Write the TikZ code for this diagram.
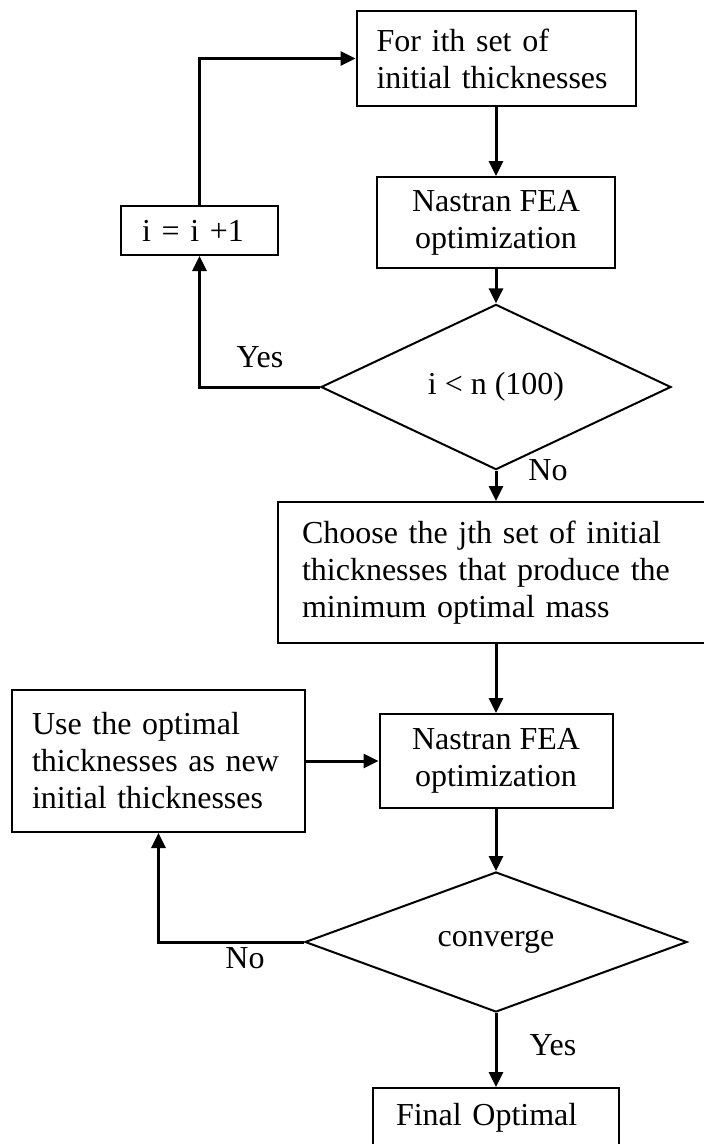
\documentclass[tikz,border=0pt]{standalone}
\usepackage{fontspec}
\setmainfont{Liberation Serif}
\usetikzlibrary{arrows.meta,shapes.geometric}
\begin{document}
\begin{tikzpicture}[x=1pt,y=-1pt,
  font=\fontsize{32}{37}\selectfont,
  box/.style={draw, line width=2pt, rectangle, inner sep=0pt},
  dia/.style={draw, line width=2pt, diamond, inner sep=0pt},
  arr/.style={line width=3pt, -{Triangle[length=15pt,width=14pt]}},
  lbl/.style={inner sep=0pt}]
\useasboundingbox (0,0) rectangle (704,1144);
\clip (0,0) rectangle (704,1144);
\node[box, minimum width=279, minimum height=95, text width=239, align=left] (b1) at (496,58.5) {For ith set of\\initial thicknesses};
\node[box, minimum width=238, minimum height=91, align=center] (b2) at (496,222.5) {Nastran FEA\\optimization};
\node[box, minimum width=157, minimum height=49, text width=115, align=left] (ib) at (199.5,230.5) {i = i +1};
\node[dia, minimum width=350, minimum height=120] (d1) at (496,387) {i < n (100)};
\node[box, minimum width=462, minimum height=141, text width=414, align=left] (b3) at (509,572.5) {Choose the jth set of initial\\thicknesses that produce the\\minimum optimal mass};
\node[box, minimum width=233, minimum height=94, align=center] (b4) at (496,761) {Nastran FEA\\optimization};
\node[box, minimum width=293, minimum height=142, text width=253, align=left] (b5) at (158.5,761) {Use the optimal\\thicknesses as new\\initial thicknesses};
\node[dia, minimum width=382, minimum height=138] (d2) at (496,942) {converge};
\node[box, minimum width=246, minimum height=60, text width=200, align=left] (fin) at (496,1118) {Final Optimal};
\node[lbl] (yes1) at (260,357) {Yes};
\node[lbl] (no1) at (548,470) {No};
\node[lbl] (no2) at (245,958) {No};
\node[lbl] (yes2) at (553,1045) {Yes};
\draw[arr] (b1.south) -- (b2.north);
\draw[arr] (b2.south) -- (d1.north);
\draw[arr] (d1.south) -- (d1.south |- b3.north);
\draw[arr] (b4.north |- b3.south) -- (b4.north);
\draw[arr] (b4.south) -- (d2.north);
\draw[arr] (d2.south) -- (fin.north);
\draw[arr] (b5.east) -- (b4.west);
\draw[arr] (d1.west) -| (ib.south);
\draw[arr] (ib.north) |- (b1.west);
\draw[arr] (d2.west) -| (b5.south);
\end{tikzpicture}
\end{document}
